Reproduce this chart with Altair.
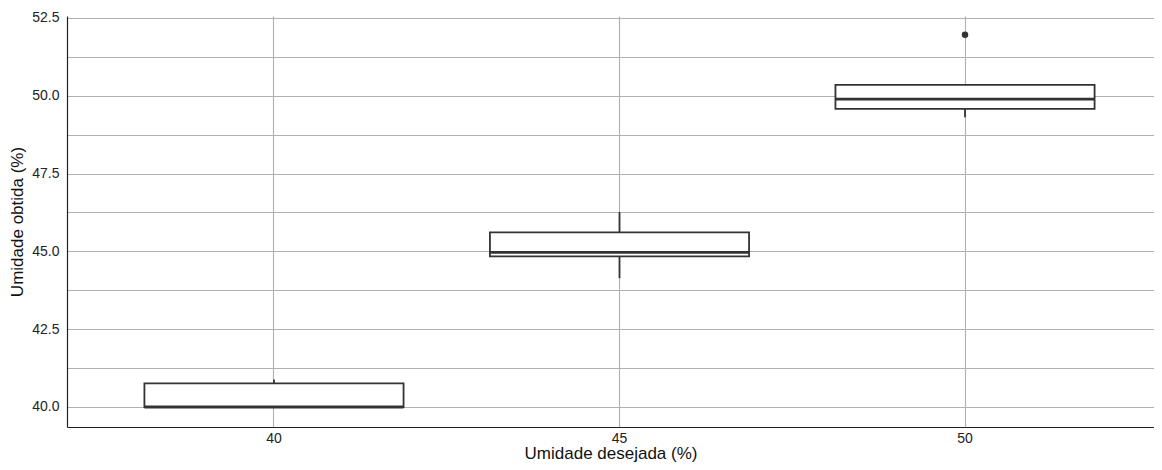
import altair as alt
import pandas as pd

groups = ["40", "45", "50"]
q1 = [40.00, 44.84, 49.58]
median = [40.00, 44.97, 49.89]
q3 = [40.76, 45.61, 50.35]
whisker_low = [40.00, 44.14, 49.31]
whisker_high = [40.88, 46.26, 50.35]

outlier_groups = ["50"]
outlier_values = [51.96]

box_df = pd.DataFrame({
    "group": groups, "q1": q1, "median": median, "q3": q3,
    "lo": whisker_low, "hi": whisker_high,
})
out_df = pd.DataFrame({"group": outlier_groups, "value": outlier_values})

y_ticks = [40 + 1.25 * i for i in range(11)]
dark = "#333333"

xscale = alt.Scale(domain=groups, paddingInner=0.25, paddingOuter=0.198, align=0.5658)
yscale = alt.Scale(domain=[39.357, 52.564], nice=False, zero=False)

x_enc = alt.X("group:N", scale=xscale, sort=groups,
              axis=alt.Axis(title="Umidade desejada (%)", labelAngle=0, ticks=False,
                            labelPadding=4, titlePadding=0, bandPosition=0.5))
y_axis = alt.Axis(title="Umidade obtida (%)", values=y_ticks, ticks=False,
                  labelExpr="datum.value % 2.5 == 0 ? format(datum.value, '.1f') : ''",
                  labelPadding=8, titlePadding=5)

base = alt.Chart(box_df)

whisk_hi = base.mark_rule(color=dark, strokeWidth=1.8).encode(
    x=x_enc, y=alt.Y("q3:Q", scale=yscale, axis=y_axis), y2="hi:Q")
whisk_lo = base.mark_rule(color=dark, strokeWidth=1.8).encode(
    x=x_enc, y=alt.Y("lo:Q", scale=yscale), y2="q1:Q")
box = base.mark_bar(fill="white", stroke=dark, strokeWidth=1.8).encode(
    x=x_enc, y=alt.Y("q1:Q", scale=yscale), y2="q3:Q")
med = base.mark_bar(fill=dark, stroke=dark, strokeWidth=2.8).encode(
    x=x_enc, y=alt.Y("median:Q", scale=yscale), y2="median:Q")
outl = alt.Chart(out_df).mark_point(filled=True, color=dark, size=42, opacity=1).encode(
    x=alt.X("group:N", scale=xscale, sort=groups), y=alt.Y("value:Q", scale=yscale))

chart = alt.layer(whisk_hi, whisk_lo, box, med, outl).properties(
    width=1087, height=411,
    padding={"left": 59, "top": 8, "right": 0, "bottom": 35},
    autosize=alt.AutoSizeParams(type="none"),
).configure_view(stroke=None).configure_axis(
    grid=True, gridColor="#b0b0b0", gridWidth=1.1,
    domainColor="#222222", domainWidth=1.2,
    labelFont="Liberation Sans", titleFont="Liberation Sans",
    labelFontSize=14, titleFontSize=17, labelColor="#222222", titleColor="#111111",
    titleFontWeight="normal",
)

chart.save("out.html", embed_options={"renderer": "svg", "actions": False})
